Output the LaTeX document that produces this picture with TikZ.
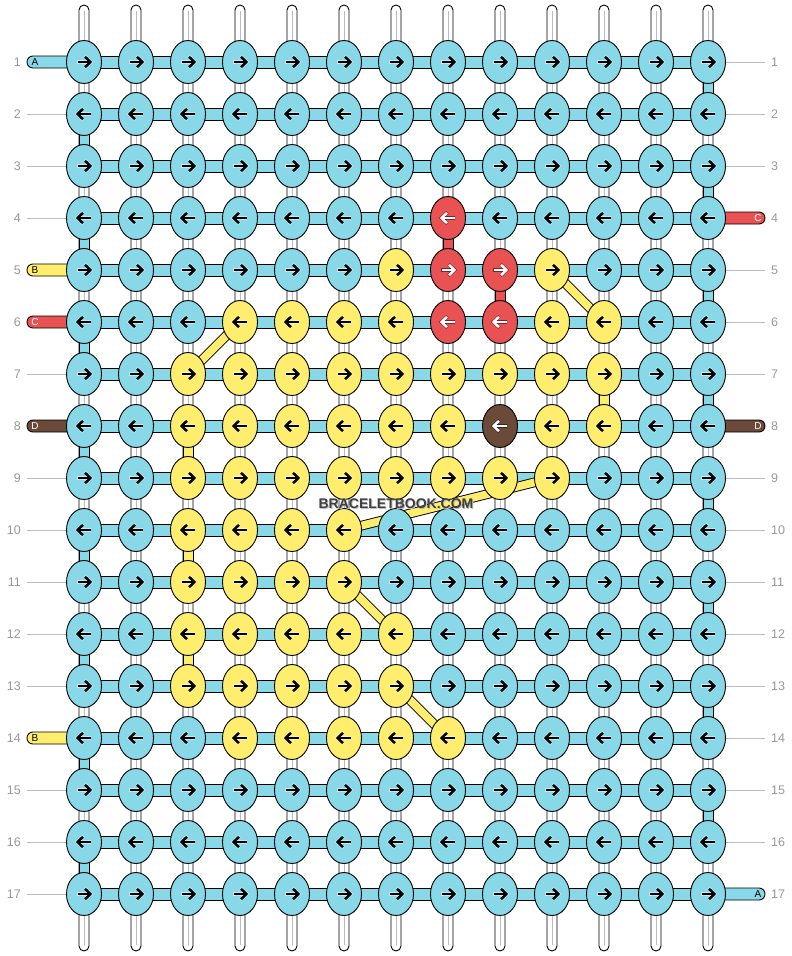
\documentclass[tikz,border=0pt]{standalone}
\usepackage{fontspec}
\setsansfont{Liberation Sans}
\usetikzlibrary{shapes.geometric}
\definecolor{kblue}{HTML}{88D8E8}
\definecolor{kyel}{HTML}{FFEE6E}
\definecolor{kred}{HTML}{E85252}
\definecolor{kbrown}{HTML}{6B4A3A}
\definecolor{numgray}{HTML}{999999}
\definecolor{linegray}{HTML}{BBBBBB}
\pgfdeclarelayer{paper}
\pgfdeclarelayer{strands}
\pgfdeclarelayer{bars}
\pgfsetlayers{paper,strands,bars,main}
% knot colours other than blue
\foreach \r/\a/\b in {6/4/7, 7/3/11, 8/3/8, 9/3/10, 10/3/6, 11/3/6, 12/3/7, 13/3/7, 14/4/8}{%
  \foreach \c in {\a,...,\b}{\expandafter\xdef\csname kc-\r-\c\endcsname{kyel}}}
\foreach \r/\c in {5/7, 5/10, 6/10, 6/11, 8/10, 8/11}{\expandafter\xdef\csname kc-\r-\c\endcsname{kyel}}
\foreach \r/\c in {4/8, 5/8, 5/9, 6/8, 6/9}{\expandafter\xdef\csname kc-\r-\c\endcsname{kred}\expandafter\xdef\csname ka-\r-\c\endcsname{white}}
\foreach \r/\c in {8/9}{\expandafter\xdef\csname kc-\r-\c\endcsname{kbrown}\expandafter\xdef\csname ka-\r-\c\endcsname{white}}
\begin{document}
\begin{tikzpicture}[x=1pt,y=-1pt,
  knot/.style={ellipse, draw=black, line width=0.9pt, minimum width=35pt, minimum height=43pt, inner sep=0pt},
  strandsty/.style={draw=black, fill=white, line width=0.9pt, rounded corners=5pt},
  strandmid/.style={draw=linegray, line width=0.8pt},
  hbar/.style={draw=black, fill=kblue, line width=0.9pt},
  vcon/.style={draw=black, line width=0.9pt},
  stubsty/.style={draw=black, line width=0.9pt, rounded corners=5.9pt},
  stublabel/.style={font=\sffamily\fontsize{10}{10}\selectfont, inner sep=0pt},
  numsty/.style={font=\sffamily\fontsize{12.5}{12.5}\selectfont, text=numgray, inner sep=0pt},
  rowline/.style={draw=linegray, line width=0.8pt},
  arrowsty/.style={line width=2.5pt, line join=miter, line cap=butt},
  arrowhalo/.style={line width=3.5pt, line join=miter, line cap=butt}
]
\useasboundingbox (0,0) rectangle (792,956);
\begin{pgfonlayer}{paper}
\fill[white] (0,0) rectangle (792,956);
\end{pgfonlayer}

% knots
\foreach \r in {1,...,17}{
  \foreach \c in {1,...,13}{
    \pgfmathsetmacro\xx{84+52*(\c-1)}
    \pgfmathsetmacro\yy{62+52*(\r-1)}
    \ifcsname kc-\r-\c\endcsname \edef\kc{\csname kc-\r-\c\endcsname}\else\def\kc{kblue}\fi
    \ifcsname ka-\r-\c\endcsname \edef\ac{\csname ka-\r-\c\endcsname}\def\hc{black}\else\def\ac{black}\def\hc{white}\fi
    \ifodd\r\relax \def\dd{1}\else\def\dd{-1}\fi
    \node[knot, fill=\kc] (k-\r-\c) at (\xx,\yy) {};
    \begin{scope}[shift={(\xx,\yy)}, xscale=\dd]
      \draw[arrowhalo, draw=\hc, opacity=0.5] (-7,0) -- (5.5,0);
      \draw[arrowhalo, draw=\hc, opacity=0.5] (0.6,-5.6) -- (6.6,0) -- (0.6,5.6);
      \draw[arrowsty, draw=\ac] (-6.5,0) -- (5.5,0);
      \draw[arrowsty, draw=\ac] (1,-5.2) -- (6.4,0) -- (1,5.2);
    \end{scope}
  }
}

% vertical strands, row lines and numbers
\begin{pgfonlayer}{strands}
\foreach \c in {1,...,13}{
  \pgfmathsetmacro\xx{84+52*(\c-1)}
  \coordinate (st-\c) at (\xx,5);
  \coordinate (sb-\c) at (\xx,951);
  \draw[strandsty] ([xshift=-5pt]st-\c) rectangle ([xshift=5pt]sb-\c);
  \draw[strandmid] ([yshift=-6pt]st-\c) -- ([yshift=6pt]sb-\c);
}
\foreach \r in {2,3,4,7,9,10,11,12,13,15,16,17}{
  \pgfmathsetmacro\yy{62+52*(\r-1)}
  \coordinate (ll-\r) at (27,\yy);
  \draw[rowline] (ll-\r) -- (k-\r-1.center);
}
\foreach \r in {1,2,3,5,6,7,9,10,11,12,13,14,15,16}{
  \pgfmathsetmacro\yy{62+52*(\r-1)}
  \coordinate (rl-\r) at (765,\yy);
  \draw[rowline] (k-\r-13.center) -- (rl-\r);
}
\foreach \r in {1,...,17}{
  \pgfmathsetmacro\yy{62+52*(\r-1)}
  \node[numsty, anchor=east] (ln-\r) at (21,\yy) {\r};
  \node[numsty, anchor=west] (rn-\r) at (771,\yy) {\r};
}
\end{pgfonlayer}

\begin{pgfonlayer}{bars}
% horizontal bars
\foreach \r in {1,...,17}{
  \draw[hbar] ([yshift=6pt]k-\r-1.center) rectangle ([yshift=-6pt]k-\r-13.center);
}
% coloured vertical connectors
\foreach \r in {1,3,5,7,9,11,13,15}{
  \pgfmathtruncatemacro\rr{\r+1}
  \draw[vcon, fill=kblue] ([xshift=-5pt]k-\r-13.center) rectangle ([xshift=5pt]k-\rr-13.center);
}
\foreach \r in {2,4,6,8,10,12,14,16}{
  \pgfmathtruncatemacro\rr{\r+1}
  \draw[vcon, fill=kblue] ([xshift=-5pt]k-\r-1.center) rectangle ([xshift=5pt]k-\rr-1.center);
}
\foreach \r/\rr/\c/\cc in {4/5/8/kred, 5/6/9/kred, 7/8/11/kyel, 8/9/3/kyel, 10/11/3/kyel, 12/13/3/kyel}{
  \draw[vcon, fill=\cc] ([xshift=-5pt]k-\r-\c.center) rectangle ([xshift=5pt]k-\rr-\c.center);
}
% diagonals
\foreach \a/\b in {k-6-4/k-7-3, k-5-10/k-6-11, k-9-10/k-10-6, k-11-6/k-12-7, k-13-7/k-14-8}{
  \draw[line width=9.6pt, black] (\a.center) -- (\b.center);
  \draw[line width=7.8pt, kyel] (\a.center) -- (\b.center);
}
% stubs
\foreach \r/\l/\cc/\tc in {1/A/kblue/black, 5/B/kyel/black, 6/C/kred/white, 8/D/kbrown/white, 14/B/kyel/black}{
  \pgfmathsetmacro\yy{62+52*(\r-1)}
  \coordinate (ls-\r) at (27,\yy);
  \draw[stubsty, fill=\cc] ([yshift=6pt]ls-\r) rectangle ([yshift=-6pt]k-\r-1.center);
  \node[stublabel, text=\tc] (lsl-\r) at ([xshift=8pt]ls-\r) {\l};
}
\foreach \r/\l/\cc/\tc in {4/C/kred/white, 8/D/kbrown/white, 17/A/kblue/black}{
  \pgfmathsetmacro\yy{62+52*(\r-1)}
  \coordinate (rs-\r) at (765,\yy);
  \draw[stubsty, fill=\cc] ([yshift=6pt]k-\r-13.center) rectangle ([yshift=-6pt]rs-\r);
  \node[stublabel, text=\tc] (rsl-\r) at ([xshift=-7pt]rs-\r) {\l};
}
\end{pgfonlayer}

% watermark
\node[font=\sffamily\bfseries\fontsize{14}{14}\selectfont, text=black!25, inner sep=0pt] (wmshadow) at (397,504.5) {BRACELETBOOK.COM};
\node[font=\sffamily\bfseries\fontsize{14}{14}\selectfont, text=black!75, inner sep=0pt] (wm) at (396,503.5) {BRACELETBOOK.COM};
\end{tikzpicture}
\end{document}
